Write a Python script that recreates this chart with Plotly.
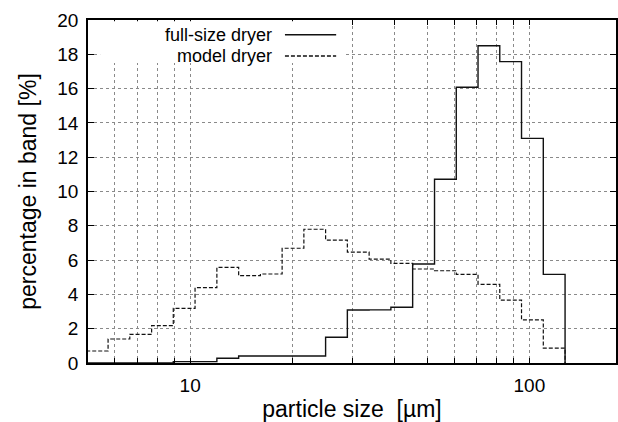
import plotly.graph_objects as go

# bin edges of the particle size classes [µm]
bin_edges = [4.94, 5.73, 6.64, 7.70, 8.92, 10.34, 11.99, 13.90, 16.11, 18.67, 21.64,
             25.08, 29.07, 33.70, 39.06, 45.28, 52.53, 60.88, 70.57, 81.79, 94.8,
             109.9, 127.4]

# percentage in band for each class
full_size = [0, 0, 0, 0, 0.08, 0.08, 0.28, 0.41, 0.41, 0.41, 0.41,
             1.50, 3.09, 3.10, 3.25, 5.77, 10.71, 16.08, 18.50, 17.57, 13.10, 5.17]
model = [0.70, 1.40, 1.67, 2.18, 3.19, 4.39, 5.58, 5.09, 5.19, 6.69, 7.80,
         7.17, 6.47, 6.06, 5.81, 5.48, 5.38, 5.17, 4.59, 3.67, 2.51, 0.87]

x_gridvals = [5, 6, 7, 8, 9, 10, 20, 30, 40, 50, 60, 70, 80, 90, 100]
x_ticktext = ["" if v not in (10, 100) else str(v) for v in x_gridvals]
y_tickvals = list(range(0, 21, 2))

FONT = "Liberation Sans, Arial, Helvetica, sans-serif"

fig = go.Figure()
fig.add_trace(go.Scatter(x=bin_edges, y=full_size + [0], mode="lines", line_shape="hv",
                         line=dict(color="#111111", width=1.4), name="full-size dryer",
                         showlegend=False))
fig.add_trace(go.Scatter(x=bin_edges, y=model + [0], mode="lines", line_shape="hv",
                         line=dict(color="#111111", width=1.2, dash="4px,2px"),
                         name="model dryer", showlegend=False))

# gnuplot-style key: white box, right-aligned labels, sample lines at right
fig.add_shape(type="rect", xref="paper", yref="paper", x0=0.023, x1=0.487, y0=0.875, y1=0.996,
              fillcolor="white", line_width=0, layer="above")
legend_rows = [("full-size dryer", "solid", 0.957), ("model dryer", "4px,2px", 0.895)]
for label, dash, yy in legend_rows:
    fig.add_annotation(text=label, xref="paper", yref="paper", x=0.352, y=yy,
                       xanchor="right", yanchor="middle", showarrow=False,
                       font=dict(family=FONT, size=18, color="black"))
    fig.add_shape(type="line", xref="paper", yref="paper", x0=0.373, x1=0.470, y0=yy, y1=yy,
                  line=dict(color="#111111", width=1.3, dash=dash), layer="above")

fig.update_layout(
    width=618, height=422,
    margin=dict(l=88, r=2, t=20, b=59),
    paper_bgcolor="white", plot_bgcolor="white",
    font=dict(family=FONT, size=19, color="black"),
    showlegend=False,
    xaxis=dict(type="log", range=[0.69897, 2.2553], tickvals=x_gridvals, ticktext=x_ticktext,
               showgrid=True, gridcolor="#8a8a8a", griddash="dot", gridwidth=1,
               showline=True, linecolor="black", linewidth=1.5, mirror="ticks",
               ticks="inside", ticklen=5, tickcolor="black", zeroline=False,
               automargin=False,
               title=dict(text="particle size  [µm]", standoff=14),
               ticklabelstandoff=4),
    yaxis=dict(range=[0, 20], tickvals=y_tickvals,
               showgrid=True, gridcolor="#8a8a8a", griddash="dot", gridwidth=1,
               showline=True, linecolor="black", linewidth=1.5, mirror="ticks",
               ticks="inside", ticklen=6, tickcolor="black", zeroline=False,
               automargin=False,
               title=dict(text="percentage in band [%]", standoff=14),
               ticklabelstandoff=4),
)

fig.write_html("out.html")
